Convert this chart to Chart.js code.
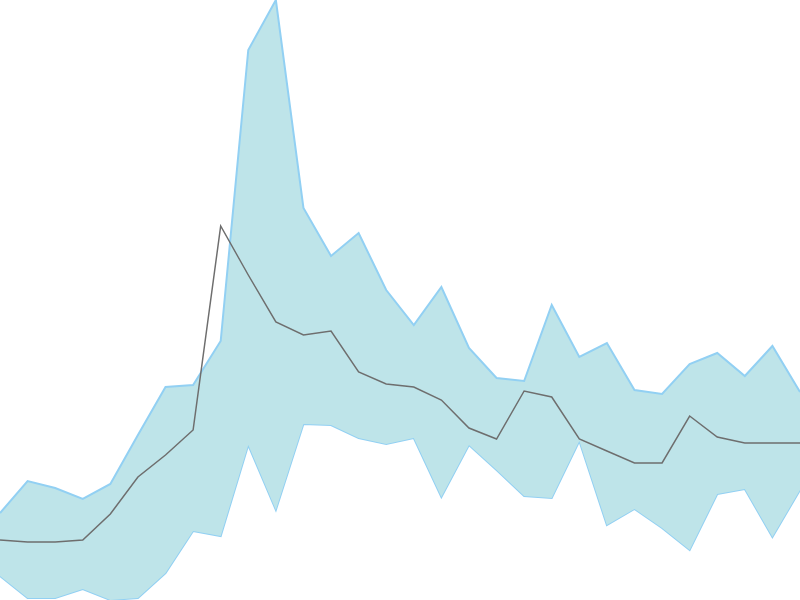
<!DOCTYPE html>
<html>
<head>
<meta charset="utf-8">
<script src="https://cdn.jsdelivr.net/npm/chart.js@4"></script>
<style>
  html, body { margin: 0; padding: 0; background: #fff; }
  #chart { display: block; }
</style>
</head>
<body>
<canvas id="chart" width="800" height="600"></canvas>
<script>
// 30 steps, values measured from the bottom of the picture
const labels = Array.from({length: 30}, (_, i) => i + 1);

const upper = [87, 119, 112, 101, 116, 165, 213, 215, 259, 550, 600, 392, 344, 367, 310,
               275, 313, 252, 222, 219, 295, 243, 257, 210, 206, 236, 247, 224, 254, 208];

const lower = [24, 2, 2, 11, 0, 2, 27, 69, 64, 155, 90, 176, 175, 162, 156,
               162, 103, 155, 130, 104, 102, 159, 75, 91, 72, 50, 106, 111, 63, 110];

const middle = [60, 58, 58, 60, 86, 123, 145, 170, 374, 325, 278, 265, 269, 228, 216,
                213, 200, 172, 161, 209, 203, 161, 149, 137, 137, 184, 163, 157, 157, 157];

const ctx = document.querySelector('#chart').getContext('2d');

new Chart(ctx, {
    type: 'line',
    data: {
        labels: labels,
        datasets: [
            {
                label: 'middle',
                data: middle,
                borderColor: '#6e6e6e',
                borderWidth: 1.5,
                fill: false,
                order: 0
            },
            {
                label: 'upper',
                data: upper,
                borderColor: '#92d0f3',
                backgroundColor: '#bee4e9',
                borderWidth: 2,
                fill: '+1',
                order: 1
            },
            {
                label: 'lower',
                data: lower,
                borderColor: '#92d0f3',
                borderWidth: 2,
                fill: false,
                order: 1
            }
        ]
    },
    options: {
        responsive: false,
        animation: false,
        elements: { point: { radius: 0 }, line: { tension: 0 } },
        layout: { padding: 0 },
        plugins: { legend: { display: false }, tooltip: { enabled: false } },
        scales: {
            x: { display: false, offset: false },
            y: { display: false, min: 0, max: 600 }
        }
    }
});
</script>
</body>
</html>
